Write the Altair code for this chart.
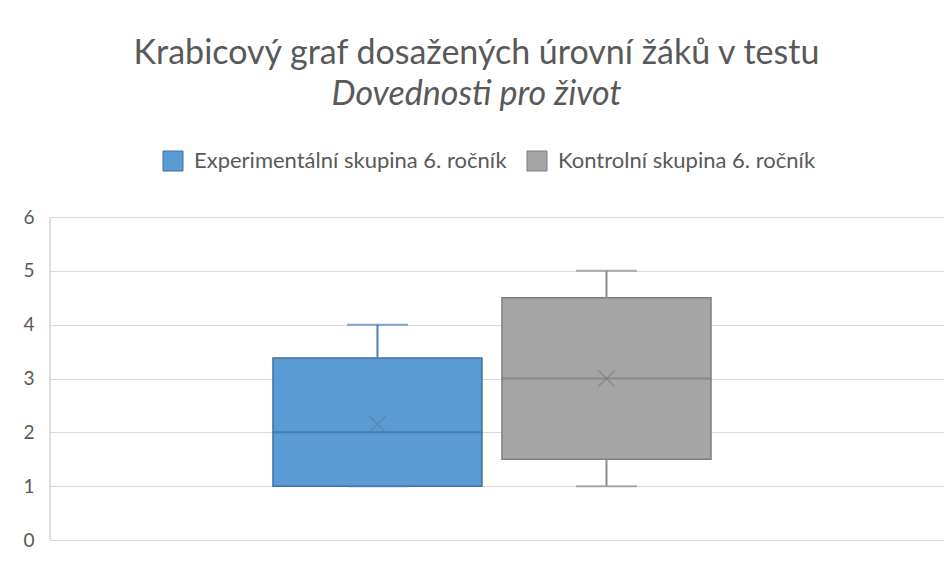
import altair as alt
import pandas as pd

groups = ["Experimentální skupina 6. ročník", "Kontrolní skupina 6. ročník"]
mins = [1, 1]
q1s = [1, 1.5]
medians = [2, 3]
q3s = [3.38, 4.5]
maxs = [4, 5]
means = [2.15, 3.0]

fills = ["#5B9BD5", "#A5A5A5"]
strokes = ["#41719C", "#7F7F7F"]
whisk = ["#4A7EBB", "#8C8C8C"]
xcol = ["#6A7E93", "#7F7F7F"]

df = pd.DataFrame({"group": groups, "min": mins, "q1": q1s, "median": medians,
                   "q3": q3s, "max": maxs, "mean": means})

FONT = "Lato"
xscale = alt.Scale(domain=groups, paddingInner=0.0873, paddingOuter=0.9955, align=0.489)
x = alt.X("group:N", scale=xscale, axis=None)
yscale = alt.Scale(domain=[0, 6], nice=False)

base = alt.Chart(df)

left = base.mark_rule(color="#D9D9D9", strokeWidth=1).encode(
    x=alt.value(0), y=alt.datum(0), y2=alt.datum(6)
)

box = base.mark_bar(strokeWidth=1.5).encode(
    x=x,
    y=alt.Y("q1:Q", scale=yscale,
            axis=alt.Axis(title=None, values=[0, 1, 2, 3, 4, 5, 6], format="d",
                          grid=True, gridColor="#D9D9D9", domain=False, ticks=False,
                          labelFont=FONT, labelFontSize=19, labelColor="#595959",
                          labelPadding=16)),
    y2="q3:Q",
    fill=alt.Fill("group:N", scale=alt.Scale(domain=groups, range=fills),
                  legend=alt.Legend(title=None, orient="none", legendX=112, legendY=-67,
                                    direction="horizontal", symbolType="square",
                                    symbolSize=400, symbolStrokeWidth=1,
                                    symbolStrokeColor="#7F7F7F",
                                    labelFont=FONT, labelFontSize=22, labelColor="#595959",
                                    labelLimit=500, columnPadding=18, symbolOffset=0,
                                    labelOffset=10)),
    stroke=alt.Stroke("group:N", scale=alt.Scale(domain=groups, range=strokes), legend=None),
)

wcolor = alt.Color("group:N", scale=alt.Scale(domain=groups, range=whisk), legend=None)

low = base.mark_rule(strokeWidth=2).encode(x=x, y="min:Q", y2="q1:Q", color=wcolor)
high = base.mark_rule(strokeWidth=2).encode(x=x, y="q3:Q", y2="max:Q", color=wcolor)
capmin = base.mark_tick(size=61, thickness=2).encode(x=x, y="min:Q", color=wcolor)
capmax = base.mark_tick(size=61, thickness=2).encode(x=x, y="max:Q", color=wcolor)

med = base.mark_tick(size=209, thickness=2).encode(
    x=x, y="median:Q",
    color=alt.Color("group:N", scale=alt.Scale(domain=groups, range=strokes), legend=None),
)

meanpt = base.mark_point(shape="M-1,-1L1,1M1,-1L-1,1", size=260, filled=False,
                         strokeWidth=1.5).encode(
    x=x, y="mean:Q",
    color=alt.Color("group:N", scale=alt.Scale(domain=groups, range=xcol), legend=None),
)

chart = alt.layer(left, box, low, high, capmin, capmax, med, meanpt).resolve_scale(
    color="independent"
).properties(
    width=894, height=323,
    padding={"top": 29, "left": 14, "right": 0, "bottom": 5},
    title=alt.TitleParams(
        text="Krabicový graf dosažených úrovní žáků v testu",
        subtitle="Dovednosti pro život",
        anchor="middle", frame="bounds", dx=-7,
        font=FONT, fontSize=34, fontWeight="normal", color="#595959",
        subtitleFont=FONT, subtitleFontSize=34, subtitleFontStyle="italic",
        subtitleColor="#595959", subtitlePadding=7, offset=38,
    ),
).configure_view(stroke=None).configure(background="white")

chart.save("out.html", embed_options={"renderer": "svg", "actions": False})
